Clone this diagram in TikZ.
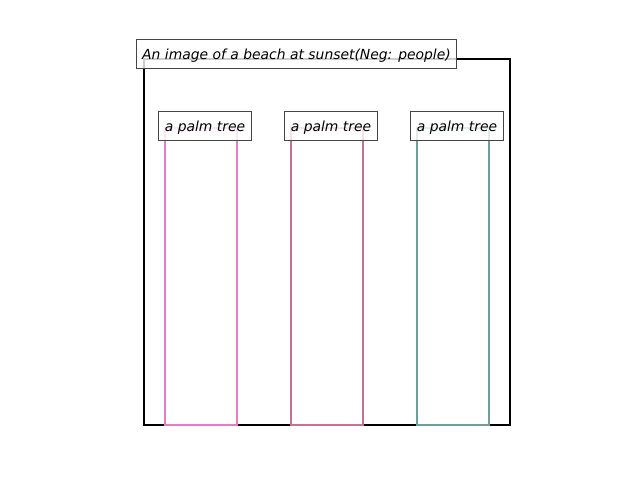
\documentclass[tikz,border=0pt]{standalone}
\usepackage{fontspec}
\setmainfont{DejaVu Sans}
\definecolor{treeA}{RGB}{227,125,196}
\definecolor{treeB}{RGB}{200,114,145}
\definecolor{treeC}{RGB}{112,158,152}
\definecolor{boxgray}{RGB}{68,68,68}
\begin{document}
\begin{tikzpicture}[x=0.72pt, y=-0.72pt, font=\itshape\fontsize{10pt}{12pt}\selectfont, line join=miter,
  lbl/.style={draw=boxgray, fill=white, fill opacity=0.8, text opacity=1, inner xsep=4.4pt, inner ysep=0pt,
    text height=8pt, text depth=0pt, minimum height=20.2pt, line width=0.7pt}]
\useasboundingbox (0,0) rectangle (640,480);
\def\ybot{425}\def\ytop{128}
\draw[line width=1.6pt] (144,59) rectangle (510,\ybot);
\foreach \x/\c/\n in {165/treeA/a,291/treeB/b,417/treeC/c}{
  \draw[\c, line width=1.6pt] (\x,\ytop) rectangle (\x+72,\ybot);
  \node[lbl] (tree\n) at (\x+40,126) {a palm tree};
}
\node[lbl] (title) at (296.5,54) {An image of a beach at sunset(Neg: people)};
\end{tikzpicture}
\end{document}
